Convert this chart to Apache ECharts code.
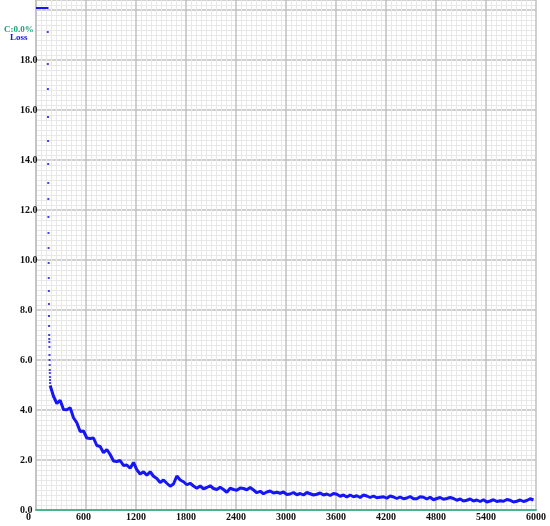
<!DOCTYPE html>
<html style="height: 100%">
<head>
    <meta charset="utf-8">
</head>
<body style="height: 100%; margin: 0; background: #fff">
<div id="container" style="width: 550px; height: 526px"></div>
<script type="text/javascript" src="https://cdn.jsdelivr.net/npm/echarts@6/dist/echarts.min.js"></script>
<script type="text/javascript">
    // x axis ticks (iterations) and y axis ticks (loss)
    var xTicks = [0, 600, 1200, 1800, 2400, 3000, 3600, 4200, 4800, 5400, 6000];
    var yMax = 20.4;

    // loss clipped at the top of the chart during the first iterations
    var clippedIters = [0, 150];
    var clippedLoss = [20.08, 20.08];

    // the fast drop right after that, one dot per iteration
    var dropStart = 141;
    var dropLoss = [19.12, 17.84, 16.84, 15.72, 14.76, 13.84, 13.08, 12.44, 11.72, 11.08,
        10.48, 9.88, 9.28, 8.76, 8.24, 7.76, 7.36, 7.0, 6.84, 6.72,
        6.52, 6.2, 6.0, 5.8, 5.6, 5.48, 5.32, 5.2, 5.08];

    // loss curve, one value every 40 iterations from 170 (noisy)
    var lossStart = 170;
    var lossStep = 40;
    var loss = [
        4.98, 4.55, 4.26, 4.39, 4.02, 4.01, 4.09, 3.69, 3.49, 3.14,
        3.16, 2.88, 2.86, 2.88, 2.58, 2.54, 2.29, 2.42, 2.22, 1.96,
        1.94, 1.98, 1.78, 1.8, 1.67, 1.9, 1.61, 1.44, 1.53, 1.39,
        1.53, 1.35, 1.26, 1.1, 1.2, 1.07, 0.95, 1.04, 1.36, 1.2,
        1.13, 1.01, 1.07, 0.96, 0.87, 0.96, 0.85, 0.9, 0.97, 0.86,
        0.82, 0.91, 0.82, 0.71, 0.87, 0.82, 0.79, 0.88, 0.86, 0.81,
        0.9, 0.8, 0.69, 0.75, 0.65, 0.72, 0.76, 0.68, 0.71, 0.67,
        0.72, 0.62, 0.64, 0.7, 0.61, 0.66, 0.6, 0.7, 0.65, 0.6,
        0.63, 0.68, 0.6, 0.64, 0.58, 0.66, 0.63, 0.55, 0.6, 0.52,
        0.6, 0.53, 0.57, 0.5, 0.6, 0.56, 0.5, 0.56, 0.49, 0.51,
        0.53, 0.47, 0.56, 0.52, 0.46, 0.52, 0.45, 0.48, 0.54, 0.45,
        0.45, 0.53, 0.51, 0.44, 0.51, 0.41, 0.46, 0.5, 0.43, 0.46,
        0.5, 0.46, 0.39, 0.44, 0.36, 0.39, 0.44, 0.36, 0.4, 0.34,
        0.41, 0.32, 0.36, 0.41, 0.34, 0.37, 0.35, 0.42, 0.39, 0.32,
        0.35, 0.4, 0.34, 0.38, 0.45, 0.4
    ];

    var font = 'Liberation Serif';
    var blue = '#1515f5';

    var clippedData = clippedIters.map(function (it, i) { return [it, clippedLoss[i]]; });
    var dropData = dropLoss.map(function (v, i) { return [dropStart + i, v]; });
    var lossData = loss.map(function (v, i) { return [lossStart + i * lossStep, v]; });

    var dom = document.getElementById("container");
    var myChart = echarts.init(dom, null, {renderer: 'canvas'});

    var option = {
        backgroundColor: '#fff',
        animation: false,
        grid: {left: 36, right: 14, top: 0, bottom: 16},
        xAxis: {
            type: 'value',
            min: xTicks[0],
            max: xTicks[xTicks.length - 1],
            interval: xTicks[1] - xTicks[0],
            axisLine: {show: true, onZero: false, lineStyle: {color: '#4cb48c', width: 2}},
            axisTick: {show: false},
            axisLabel: {
                color: '#111', fontFamily: font, fontWeight: 'bold', fontSize: 10,
                margin: 2, align: 'left', padding: [0, 0, 0, -10],
                formatter: function (v) { return String(v); }
            },
            splitLine: {show: true, lineStyle: {color: '#c0c0c0', width: 1.5}},
            minorTick: {show: false, splitNumber: 10},
            minorSplitLine: {show: true, lineStyle: {color: '#e8e8e8', width: 1}}
        },
        yAxis: {
            type: 'value',
            min: 0,
            max: yMax,
            interval: 2,
            axisLine: {show: true, lineStyle: {color: '#c0c0c0', width: 1.5}},
            axisTick: {show: false},
            axisLabel: {
                color: '#111', fontFamily: font, fontWeight: 'bold', fontSize: 10,
                margin: 16, align: 'left',
                formatter: function (v) { return v > 19 ? '' : v.toFixed(1); }
            },
            splitLine: {show: true, lineStyle: {color: '#c0c0c0', width: 1.5}},
            minorTick: {show: false, splitNumber: 10},
            minorSplitLine: {show: true, lineStyle: {color: '#e8e8e8', width: 1}}
        },
        graphic: [
            {type: 'text', left: 4, top: 25, style: {text: 'C:0.0%', fill: '#17a37a', font: 'bold 9px ' + font}},
            {type: 'text', left: 10, top: 33, style: {text: 'Loss', fill: blue, font: 'bold 9px ' + font}}
        ],
        series: [
            {
                type: 'line', data: clippedData, showSymbol: false,
                lineStyle: {color: blue, width: 2}, silent: true
            },
            {
                type: 'scatter', data: dropData, symbol: 'rect', symbolSize: 2,
                itemStyle: {color: blue}, silent: true
            },
            {
                type: 'line', data: lossData, showSymbol: false,
                lineStyle: {color: blue, width: 3}, silent: true
            }
        ]
    };

    if (option && typeof option === "object") {
        myChart.setOption(option, true);
    }
</script>
</body>
</html>
